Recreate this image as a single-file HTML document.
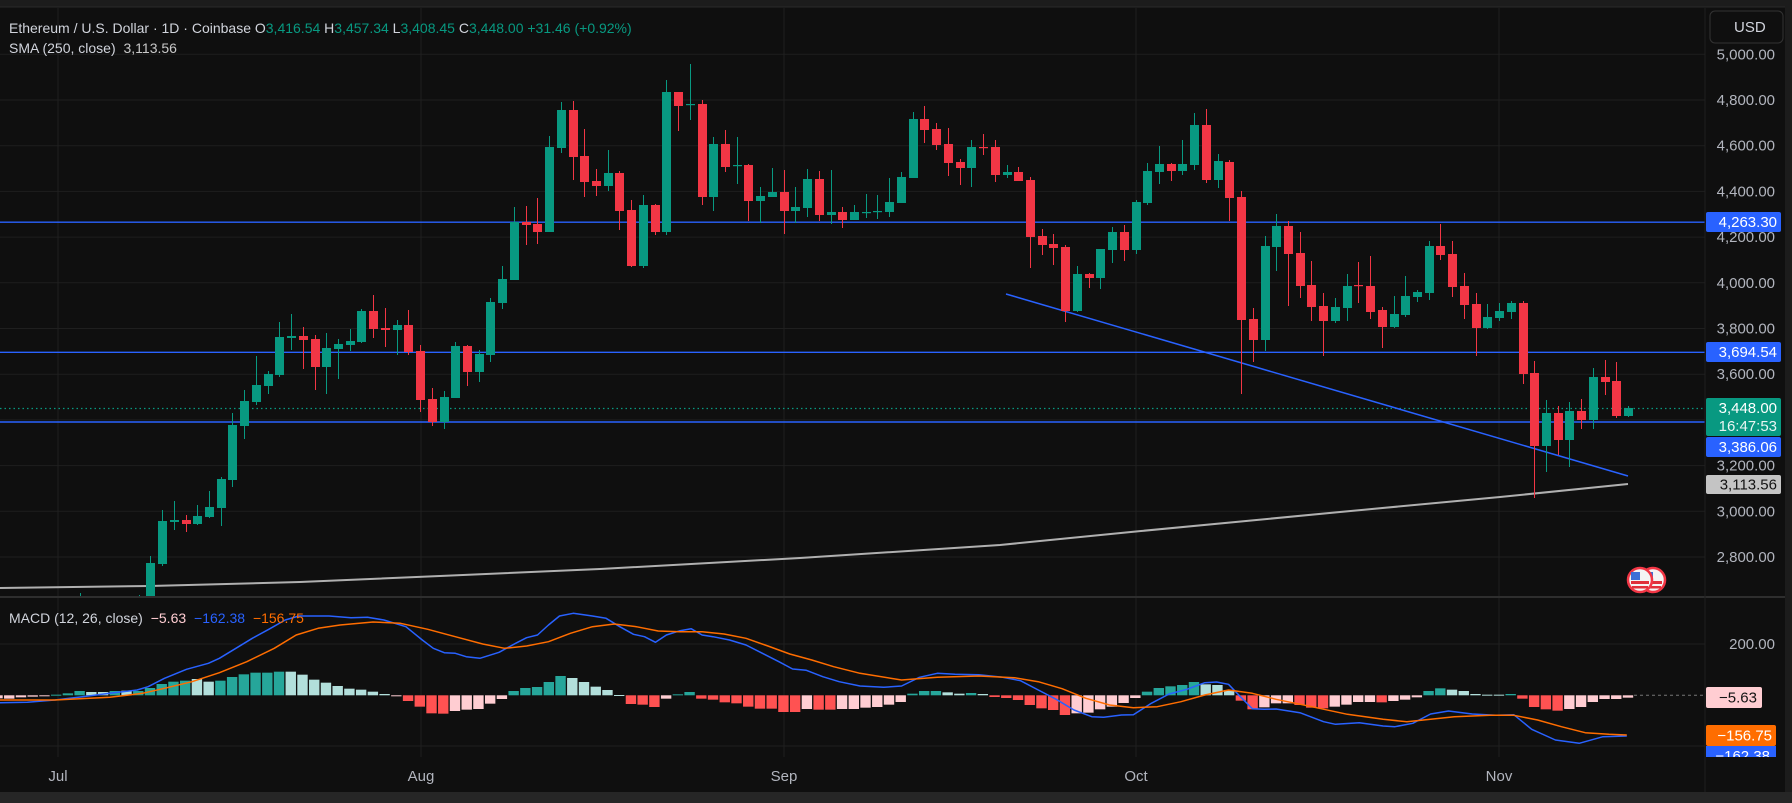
<!DOCTYPE html>
<html><head><meta charset="utf-8">
<style>
html,body{margin:0;padding:0;background:#0f0f0f;width:1792px;height:803px;overflow:hidden}
svg{display:block;font-family:"Liberation Sans",sans-serif}
</style></head>
<body>
<svg id="s" width="1792" height="803" xmlns="http://www.w3.org/2000/svg">
<rect width="1792" height="803" fill="#0f0f0f"/>
<rect x="0" y="0" width="1792" height="7" fill="#1c1c1c"/>
<line x1="0" y1="7" x2="1792" y2="7" stroke="#2a2a2a"/>
<rect x="1785" y="0" width="7" height="803" fill="#1c1c1c"/>
<rect x="0" y="792" width="1792" height="11" fill="#262626"/>
<g id="grid"></g>
<defs><clipPath id="mc"><rect x="0" y="8" width="1705" height="589"/></clipPath>
<clipPath id="dc"><rect x="0" y="598" width="1705" height="159"/></clipPath></defs>
<g id="main" clip-path="url(#mc)"></g>
<g id="macd" clip-path="url(#dc)"></g>
<line x1="0" y1="597" x2="1785" y2="597" stroke="#2e2e2e" stroke-width="2"/>
<line x1="1705" y1="8" x2="1705" y2="792" stroke="#1f1f1f"/>
<g id="axis"></g>
<text x="9" y="33" font-size="14" fill="#d1d4dc">Ethereum / U.S. Dollar · 1D · Coinbase <tspan fill="#d1d4dc">O</tspan><tspan fill="#089981">3,416.54</tspan> <tspan fill="#d1d4dc">H</tspan><tspan fill="#089981">3,457.34</tspan> <tspan fill="#d1d4dc">L</tspan><tspan fill="#089981">3,408.45</tspan> <tspan fill="#d1d4dc">C</tspan><tspan fill="#089981">3,448.00</tspan> <tspan fill="#089981">+31.46 (+0.92%)</tspan></text>
<text x="9" y="53" font-size="14" fill="#d1d4dc">SMA (250, close) <tspan dx="4" fill="#c8c8c8">3,113.56</tspan></text>
<text x="9" y="623" font-size="14" fill="#d1d4dc">MACD (12, 26, close) <tspan dx="4" fill="#ffcdd2">−5.63</tspan> <tspan dx="4" fill="#2962ff">−162.38</tspan> <tspan dx="4" fill="#ff6d00">−156.75</tspan></text>
</svg>
<script>
var NS="http://www.w3.org/2000/svg";
function el(p,t,a,txt){var e=document.createElementNS(NS,t);for(var k in a)e.setAttribute(k,a[k]);if(txt!=null)e.textContent=txt;document.getElementById(p).appendChild(e);return e;}
for(var i=0;i<12;i++){var y=54.3+45.7*i;el('grid','line',{x1:0,x2:1705,y1:y,y2:y,stroke:'#1f1f1f'});}
el('grid','line',{x1:0,x2:1705,y1:644,y2:644,stroke:'#1f1f1f'});
el('grid','line',{x1:0,x2:1705,y1:746,y2:746,stroke:'#1f1f1f'});
var months=[[58,'Jul'],[421,'Aug'],[784,'Sep'],[1136,'Oct'],[1499,'Nov']];
months.forEach(function(m){el('grid','line',{x1:m[0],x2:m[0],y1:8,y2:757,stroke:'#1f1f1f'});
el('axis','text',{x:m[0],y:781,'font-size':15,fill:'#b2b5be','text-anchor':'middle'},m[1]);});
var sma=[[0,588],[150,586],[300,582],[440,576],[600,569],[800,558],[1000,545],[1141,531],[1340,512],[1500,497],[1628,484]];
el('main','polyline',{points:sma.map(function(p){return p.join(',')}).join(' '),fill:'none',stroke:'#b0b0b0','stroke-width':2});
[222.2,352.3,422].forEach(function(y){el('main','line',{x1:0,x2:1705,y1:y,y2:y,stroke:'#2962ff','stroke-width':1.4});});
el('main','line',{x1:0,x2:1705,y1:408.5,y2:408.5,stroke:'#089981','stroke-width':1.2,'stroke-dasharray':'1.5,3'});
el('main','line',{x1:1006,y1:294,x2:1628,y2:476,stroke:'#2962ff','stroke-width':1.5});
var C=[[80,600,610,593,620,1],[139,600,610,595,620,1],[150,563,620,556,620,1],[162,521,564,510,566,1],[174,520,522,501,530,1],[186,520,524,515,532,0],[197,516,524,505,525,1],[209,507,517,491,518,1],[221,479,508,477,526,1],[232,425,480,413,487,1],[244,401,426,390,439,1],[256,385,402,356,405,1],[268,374,386,371,394,1],[279,337,375,322,377,1],[291,336,338,314,350,1],[303,336,340,327,369,0],[315,339,367,335,390,0],[326,348,367,333,394,1],[338,344,349,339,379,1],[350,341,345,329,351,1],[361,311,342,309,343,1],[373,311,329,295,338,0],[385,328,330,308,347,0],[397,325,330,320,355,1],[408,325,352,310,355,0],[420,351,400,345,412,0],[432,399,422,388,426,0],[444,397,422,391,429,1],[455,346,398,342,398,1],[467,346,372,345,386,0],[479,354,372,350,382,1],[490,302,355,298,362,1],[502,279,303,266,309,1],[514,222,280,207,280,1],[526,222,225,206,245,0],[537,224,232,198,244,0],[549,147,232,136,232,1],[561,110,148,102,153,1],[573,110,157,101,180,0],[584,156,182,129,197,0],[596,181,186,169,196,0],[608,173,186,150,191,1],[619,173,211,171,230,0],[631,210,266,200,267,0],[643,205,266,195,268,1],[655,205,232,204,235,0],[666,92,232,80,235,1],[678,92,106,92,131,0],[690,104,105,64,120,1],[702,104,197,100,205,0],[713,144,197,137,211,1],[725,144,167,130,172,0],[737,165,166,137,184,1],[748,165,201,164,221,0],[760,196,201,187,223,1],[772,192,197,168,197,1],[784,192,211,170,234,0],[795,207,211,187,223,1],[807,179,208,169,217,1],[819,179,215,171,221,0],[831,212,215,170,224,1],[842,212,220,207,228,0],[854,212,220,205,220,1],[866,212,213,194,218,1],[877,211,212,195,219,1],[889,202,212,178,217,1],[901,177,203,172,203,1],[913,119,178,112,178,1],[924,119,130,106,143,0],[936,129,145,123,150,0],[948,144,163,128,176,0],[960,162,168,159,185,0],[971,147,168,140,187,1],[983,147,148,134,155,0],[995,147,175,140,182,0],[1007,172,175,165,178,1],[1018,172,181,167,181,0],[1030,180,237,177,268,0],[1042,236,245,229,255,0],[1053,244,248,234,265,0],[1065,247,311,245,322,0],[1077,274,311,266,312,1],[1089,274,278,273,288,0],[1100,249,278,249,289,1],[1112,232,250,227,263,1],[1124,232,250,225,261,0],[1136,202,250,200,254,1],[1147,171,203,163,205,1],[1159,164,172,146,184,1],[1171,164,171,163,181,0],[1182,164,171,140,175,1],[1194,125,165,113,170,1],[1206,125,180,109,183,0],[1218,161,180,154,188,1],[1229,162,198,160,221,0],[1241,197,320,191,394,0],[1253,319,340,308,362,0],[1265,246,340,236,351,1],[1276,226,247,214,271,1],[1288,226,254,221,306,0],[1300,253,286,232,298,0],[1311,285,307,261,321,0],[1323,306,321,293,356,0],[1335,307,321,298,323,1],[1347,286,308,274,321,1],[1358,285,286,262,303,0],[1370,286,312,256,319,0],[1382,310,327,307,348,0],[1394,314,327,296,328,1],[1405,296,315,276,317,1],[1417,292,297,290,302,1],[1429,246,293,241,300,1],[1440,246,255,224,260,0],[1452,254,287,241,297,0],[1464,286,305,273,319,0],[1476,304,328,293,356,0],[1487,317,328,304,329,1],[1499,311,318,303,321,1],[1511,303,312,301,319,1],[1523,303,374,301,384,0],[1534,373,446,361,498,0],[1546,413,446,400,472,1],[1558,413,440,406,455,0],[1569,411,440,402,467,1],[1581,411,420,399,429,0],[1593,377,420,368,429,1],[1605,377,382,360,395,0],[1616,381,416,362,418,0],[1628,408,416,406,417,1]];
C.forEach(function(c){var col=c[5]?'#089981':'#f23645';
el('main','line',{x1:c[0]+0.5,x2:c[0]+0.5,y1:c[3],y2:c[4],stroke:col,'stroke-width':1});
var h=Math.max(c[2]-c[1],1.2);el('main','rect',{x:c[0]-4,y:c[1],width:9,height:h,fill:col});});
[[1653,580],[1640,580]].forEach(function(f){
el('main','circle',{cx:f[0],cy:f[1],r:12,fill:'#f4f4f4',stroke:'#f23645','stroke-width':2.5});
el('main','rect',{x:f[0]-9,y:f[1]+1,width:18,height:3,fill:'#e0303a'});
el('main','rect',{x:f[0]-8,y:f[1]+6,width:16,height:2.5,fill:'#e0303a'});
el('main','rect',{x:f[0]-9,y:f[1]-8,width:9,height:8,fill:'#3d6fd6'});});
var Z=695.3;
var H8=[[0,325,'p'],[22,326,'p'],[44,322,'p'],[66,320,'p'],[88,318,'p'],[110,314,'g'],[125,310,'g'],[147,303,'g'],[170,306,'G'],[192,306,'G'],[214,303,'g'],[236,302,'G'],[258,303,'g'],[280,294,'g'],[297,282,'g'],[319,275,'g'],[341,272,'g'],[363,267,'G'],[385,275,'G'],[405,272,'g'],[425,261,'g'],[447,253,'g'],[469,248,'g'],[491,248,'g'],[509,245,'g'],[531,245,'G'],[553,254,'G'],[575,269,'G'],[597,278,'G'],[618,288,'G'],[638,296,'G'],[660,299,'G'],[682,305,'G'],[704,312,'G'],[724,318,'p'],[746,333,'r'],[768,350,'r'],[790,370,'r'],[810,371,'r'],[830,363,'p'],[852,359,'p'],[874,357,'p'],[894,341,'p'],[916,327,'p'],[938,303,'g'],[960,294,'g'],[980,291,'g'],[1002,276,'g'],[1024,258,'g'],[1046,264,'G'],[1068,276,'G'],[1088,290,'G'],[1110,300,'G'],[1130,315,'G'],[1152,342,'r'],[1174,344,'r'],[1194,351,'r'],[1216,326,'p'],[1238,313,'g'],[1258,306,'g'],[1280,326,'r'],[1302,329,'r'],[1324,337,'r'],[1346,340,'r'],[1368,350,'r'],[1390,356,'r'],[1412,356,'r'],[1432,366,'r'],[1454,366,'r'],[1474,357,'p'],[1496,359,'r'],[1518,359,'r'],[1540,357,'p'],[1562,357,'p']];
var H9=[[10,353,'p'],[30,351,'p'],[50,344,'p'],[70,336,'p'],[90,311,'g'],[110,303,'g'],[128,303,'g'],[148,307,'G'],[168,311,'G'],[188,309,'g'],[208,312,'G'],[228,321,'r'],[248,324,'r'],[268,330,'r'],[288,345,'r'],[306,355,'r'],[326,360,'r'],[346,375,'r'],[366,370,'p'],[386,368,'p'],[406,358,'p'],[426,350,'p'],[446,339,'p'],[466,324,'p'],[486,305,'g'],[506,294,'g'],[524,289,'g'],[544,285,'g'],[564,276,'g'],[584,283,'G'],[604,285,'G'],[622,300,'G'],[642,332,'r'],[662,358,'r'],[682,352,'p'],[702,340,'p'],[722,340,'p'],[742,345,'r'],[760,353,'r'],[780,355,'r'],[800,350,'p'],[820,344,'p'],[838,336,'p'],[858,336,'p'],[878,337,'r'],[898,333,'p'],[918,329,'p'],[938,322,'p'],[958,303,'g'],[976,295,'g'],[996,299,'G'],[1016,303,'G'],[1036,312,'G'],[1056,314,'G'],[1076,314,'G'],[1096,312,'g'],[1116,326,'r'],[1136,351,'r'],[1156,358,'r'],[1174,362,'r'],[1194,357,'p'],[1214,351,'p'],[1234,336,'p'],[1254,327,'p'],[1274,327,'p'],[1294,323,'p']];
var cols={g:'#26a69a',G:'#b2dfdb',r:'#ff5252',p:'#ffcdd2'};
function bar(x,zy,c){var k=Math.round((x-150)/11.73);var bx=150+11.73*k;var y=590+zy/3;
var t=Math.min(y,Z),h=Math.max(Math.abs(y-Z),1);el('macd','rect',{x:bx-5.2,y:t,width:10.4,height:h,fill:cols[c]});}
H8.forEach(function(b){bar(b[0]*0.5485,b[1],b[2]);});
H9.forEach(function(b){bar(860+b[0]*0.5944,b[1],b[2]);});
el('macd','line',{x1:1634,x2:1705,y1:Z,y2:Z,stroke:'#777','stroke-dasharray':'3,3'});
function line(pts8,pts9,col){var a=[];pts8.forEach(function(p){a.push((p[0]*0.5485).toFixed(1)+','+(590+p[1]/3).toFixed(1));});
pts9.forEach(function(p){a.push((860+p[0]*0.5944).toFixed(1)+','+(590+p[1]/3).toFixed(1));});
el('macd','polyline',{points:a.join(' '),fill:'none',stroke:col,'stroke-width':1.5,'stroke-linejoin':'round'});}
line([[0,338],[50,337],[100,330],[150,320],[200,310],[250,300],[270,290],[300,265],[340,238],[380,220],[400,205],[430,175],[460,145],[490,118],[520,90],[545,78],[600,78],[640,83],[670,82],[700,90],[740,110],[770,150],[790,175],[810,188],[830,190],[850,200],[875,205],[910,187],[940,160],[960,143],[980,135],[1000,105],[1020,78],[1045,70],[1080,78],[1105,85],[1130,110],[1155,133],[1175,140],[1195,157],[1215,135],[1240,122],[1260,116],[1280,135],[1300,140],[1330,150],[1360,165],[1390,190],[1420,215],[1445,237],[1470,241],[1500,260],[1530,275],[1568,288]],
[[40,292],[70,288],[100,262],[130,250],[160,253],[200,254],[240,262],[270,272],[300,300],[330,328],[360,360],[390,380],[410,382],[440,375],[460,374],[490,340],[520,312],[550,298],[580,278],[600,276],[620,283],[640,320],[660,356],[680,358],[700,357],[740,368],[780,395],[800,403],[840,398],[880,408],[900,410],[930,400],[960,372],[990,363],[1030,372],[1070,376],[1100,374],[1130,418],[1170,450],[1210,460],[1250,440],[1290,438]],'#2962ff');
line([[0,330],[100,330],[200,322],[260,310],[300,295],[350,275],[400,248],[450,215],[500,175],[540,135],[580,115],[620,105],[680,96],[730,100],[780,118],[830,140],[880,162],[920,175],[960,168],[1000,155],[1040,130],[1080,110],[1120,102],[1160,110],[1200,123],[1240,125],[1280,125],[1320,132],[1360,145],[1400,168],[1440,192],[1480,210],[1520,230],[1568,250]],
[[70,270],[130,262],[200,258],[260,263],[300,275],[340,296],[380,325],[420,345],[460,353],[500,350],[540,335],[580,315],[620,300],[660,310],[700,328],[760,350],[820,373],[880,388],[920,395],[960,388],[1000,380],[1060,376],[1100,376],[1140,390],[1180,410],[1220,428],[1260,433],[1290,435]],'#ff6d00');
var labs=['5,000.00','4,800.00','4,600.00','4,400.00','4,200.00','4,000.00','3,800.00','3,600.00','3,400.00','3,200.00','3,000.00','2,800.00'];
labs.forEach(function(l,i){if(l=='3,400.00')return;el('axis','text',{x:1775,y:54.3+45.7*i+5,'font-size':15,fill:'#b2b5be','text-anchor':'end'},l);});
el('axis','text',{x:1775,y:649,'font-size':15,fill:'#b2b5be','text-anchor':'end'},'200.00');
function box(y,h,fill,txt,tc,w,tx){w=w||75;el('axis','rect',{x:1706,y:y,width:w,height:h,fill:fill,rx:2});el('axis','text',{x:tx||(1706+w-4),y:y+h/2+5,'font-size':15,fill:tc,'text-anchor':'end'},txt);}
box(212,20,'#2962ff','4,263.30','#fff');
box(342,20,'#2962ff','3,694.54','#fff');
el('axis','rect',{x:1706,y:398,width:75,height:38,fill:'#089981',rx:2});
el('axis','text',{x:1777,y:413,'font-size':15,fill:'#fff','text-anchor':'end'},'3,448.00');
el('axis','text',{x:1777,y:431,'font-size':15,fill:'#e8f5f2','text-anchor':'end'},'16:47:53');
box(437,20,'#2962ff','3,386.06','#fff');
box(475,19,'#c4c4c4','3,113.56','#131313');
box(687,21,'#ffcdd2','−5.63','#131313',56,1757);
el('axis','rect',{x:1706,y:746,width:70,height:11,fill:'#2962ff'});
el('axis','text',{x:1770,y:761,'font-size':15,fill:'#fff','text-anchor':'end'},'−162.38');
el('axis','rect',{x:1706,y:757,width:79,height:35,fill:'#0f0f0f'});
box(725,21,'#ff6d00','−156.75','#fff',70,1772);
el('axis','rect',{x:1710,y:11,width:73,height:32,rx:5,fill:'#0f0f0f',stroke:'#333'});
el('axis','text',{x:1734,y:32,'font-size':15,fill:'#d1d4dc'},'USD');
</script>
</body></html>
